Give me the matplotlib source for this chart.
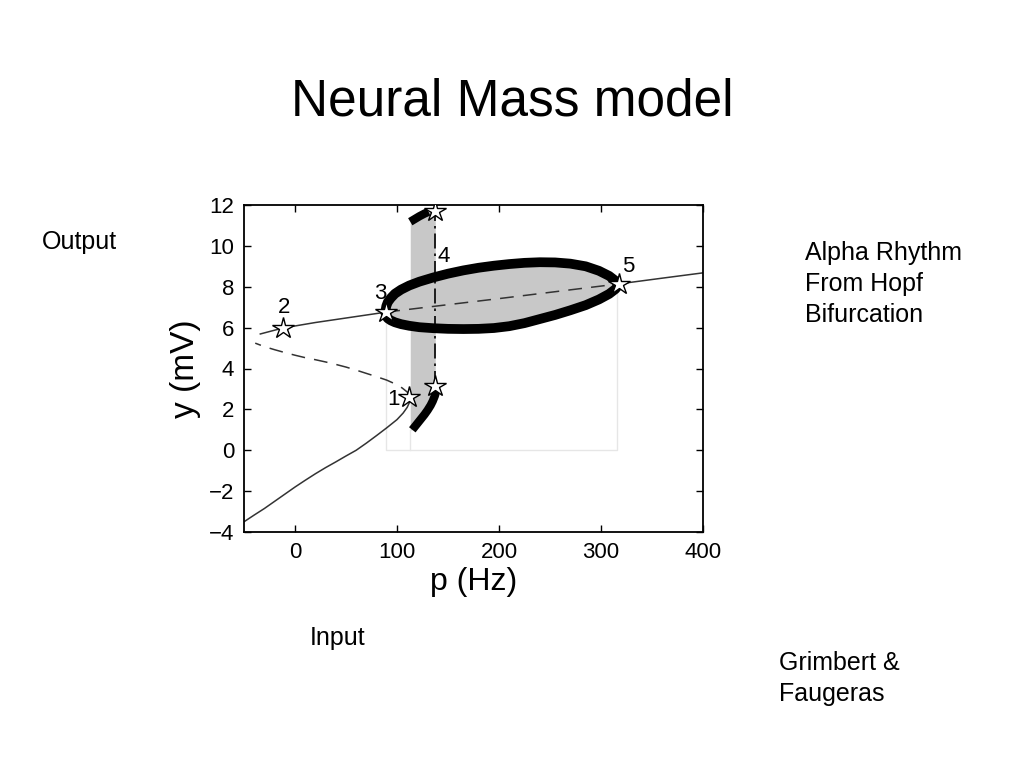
import numpy as np
import matplotlib
matplotlib.use("Agg")
import matplotlib.pyplot as plt

plt.rcParams['font.family'] = ['Liberation Sans', 'DejaVu Sans']

# lower stable branch (solid)
p_low = [-50, -40, -30, -20, -10, 0, 10, 20, 30, 40, 50, 60, 70, 80, 90, 100, 106, 110, 112, 113]
y_low = [-3.5, -3.17, -2.85, -2.5, -2.15, -1.8, -1.47, -1.15, -0.85, -0.57, -0.28, 0.0,
         0.35, 0.72, 1.1, 1.5, 1.82, 2.1, 2.32, 2.6]

# middle unstable branch (dashed)
p_mid = [113, 110, 105, 98, 90, 80, 70, 60, 50, 40, 30, 20, 10, 0, -10, -20, -30, -39]
y_mid = [2.6, 2.85, 3.05, 3.25, 3.43, 3.6, 3.76, 3.92, 4.07, 4.2, 4.32, 4.43, 4.53,
         4.65, 4.78, 4.92, 5.07, 5.24]

# upper branch: stable / unstable (inside cycle) / stable
p_up1 = [-34, -12, 20, 50, 89.5]
y_up1 = [5.69, 5.98, 6.25, 6.47, 6.76]
p_up2 = [89.5, 136, 200, 293, 317.6]
y_up2 = [6.76, 7.04, 7.42, 7.99, 8.14]
p_up3 = [317.6, 360, 400]
y_up3 = [8.14, 8.42, 8.68]

# limit cycle max / min (Hopf cycle)
p_lc = [88.5, 89.5, 91, 94, 98, 104, 112, 122, 136, 150, 165, 180, 195, 210, 225,
        240, 255, 270, 285, 298, 308, 314, 317.6]
y_lc_up = [6.76, 7.05, 7.25, 7.45, 7.66, 7.86, 8.06, 8.25, 8.46, 8.64, 8.8, 8.93, 9.03,
           9.11, 9.17, 9.2, 9.19, 9.13, 9.0, 8.78, 8.53, 8.3, 8.1]
y_lc_lo = [6.76, 6.55, 6.45, 6.35, 6.26, 6.17, 6.09, 6.02, 5.97, 5.94, 5.93, 5.94, 5.98,
           6.07, 6.22, 6.42, 6.62, 6.85, 7.1, 7.38, 7.65, 7.88, 8.1]

# second cycle (narrow band)
band_p = [113, 115, 123, 130, 135, 137.5]
band_lo = [1.0, 1.0, 1.5, 1.96, 2.4, 3.1]
band_hi = [11.18, 11.25, 11.47, 11.65, 11.72, 11.75]
p_arc_lo = [115, 119, 123, 127, 130, 133, 135, 137, 138.5]
y_arc_lo = [1.0, 1.25, 1.5, 1.75, 1.96, 2.2, 2.4, 2.65, 2.9]
p_arc_hi = [113, 118, 122, 127, 131]
y_arc_hi = [11.18, 11.33, 11.45, 11.58, 11.67]
p_hom = 137.5

# special points
star_p = [112, 137.5, 137.5, -12, 89.5, 317.6]
star_y = [2.6, 3.15, 11.72, 5.98, 6.76, 8.12]
lab_txt = ['1', '2', '3', '4', '5']
lab_p = [96.4, -10.8, 83.6, 145.5, 327]
lab_y = [2.5, 7.0, 7.65, 9.46, 9.0]

fig = plt.figure(figsize=(10.24, 7.68), dpi=100)
ax = fig.add_axes([244/1024, 1-532/768, 459/1024, 327/768])

# faint projection lines
ax.plot([89.5, 89.5, 316, 316], [6.7, 0, 0, 7.9], color='#e6e6e6', lw=1, zorder=1)
ax.plot([113, 113], [0, 1.0], color='#e6e6e6', lw=1, zorder=1)

ax.fill_between(band_p, band_lo, band_hi, color='#c8c8c8', lw=0, zorder=1)
ax.fill(p_lc + p_lc[::-1], y_lc_up + y_lc_lo[::-1], color='#c8c8c8', lw=0, zorder=1)

ax.plot(p_low, y_low, color='#333333', lw=1.1, zorder=2)
ax.plot(p_mid, y_mid, color='#333333', lw=1.1, ls=(0, (9, 6)), zorder=2)
ax.plot(p_up1, y_up1, color='#333333', lw=1.1, zorder=2)
ax.plot(p_up2, y_up2, color='#333333', lw=1.1, ls=(0, (9, 6)), zorder=2)
ax.plot(p_up3, y_up3, color='#333333', lw=1.1, zorder=2)
ax.plot([p_hom, p_hom], [star_y[1], star_y[2]], color='black', lw=1.2,
        ls=(0, (9, 3, 1.5, 3)), zorder=2)

ax.plot(p_lc, y_lc_up, color='black', lw=7, solid_capstyle='round',
        solid_joinstyle='round', zorder=3)
ax.plot(p_lc, y_lc_lo, color='black', lw=7, solid_capstyle='round',
        solid_joinstyle='round', zorder=3)
ax.plot(p_arc_lo, y_arc_lo, color='black', lw=6, solid_capstyle='butt',
        solid_joinstyle='round', zorder=3)
ax.plot(p_arc_hi, y_arc_hi, color='black', lw=6, solid_capstyle='butt',
        solid_joinstyle='round', zorder=3)

ax.plot(star_p, star_y, ls='none', marker='*', ms=16, mfc='white', mec='black',
        mew=1, zorder=4)
for t, px, py in zip(lab_txt, lab_p, lab_y):
    ax.text(px, py, t, fontsize=16, ha='center', va='center', zorder=5)

ax.set_xlim(-50, 400)
ax.set_ylim(-4, 12)
ax.set_xticks([0, 100, 200, 300, 400])
ax.set_yticks(np.arange(-4, 13, 2))
ax.set_yticklabels(['\u22124', '\u22122', '0', '2', '4', '6', '8', '10', '12'])
ax.tick_params(direction='in', top=True, right=True, length=5, width=1,
               labelsize=16, pad=7)
for s in ax.spines.values():
    s.set_linewidth(1.3)
ax.set_xlabel('p (Hz)', fontsize=23, labelpad=3)
ax.set_ylabel('y (mV)', fontsize=24, labelpad=6)

fig.text(0.5, 1-115/768, 'Neural Mass model', fontsize=37, ha='center', va='baseline')
fig.text(42/1024, 1-249/768, 'Output', fontsize=18, va='baseline')
fig.text(310/1024, 1-645/768, 'Input', fontsize=18, va='baseline')
fig.text(805/1024, 1-260/768, 'Alpha Rhythm', fontsize=18, va='baseline')
fig.text(805/1024, 1-291/768, 'From Hopf', fontsize=18, va='baseline')
fig.text(805/1024, 1-322/768, 'Bifurcation', fontsize=18, va='baseline')
fig.text(779/1024, 1-670/768, 'Grimbert &', fontsize=18, va='baseline')
fig.text(779/1024, 1-701/768, 'Faugeras', fontsize=18, va='baseline')

fig.savefig('out.png', dpi=100)
